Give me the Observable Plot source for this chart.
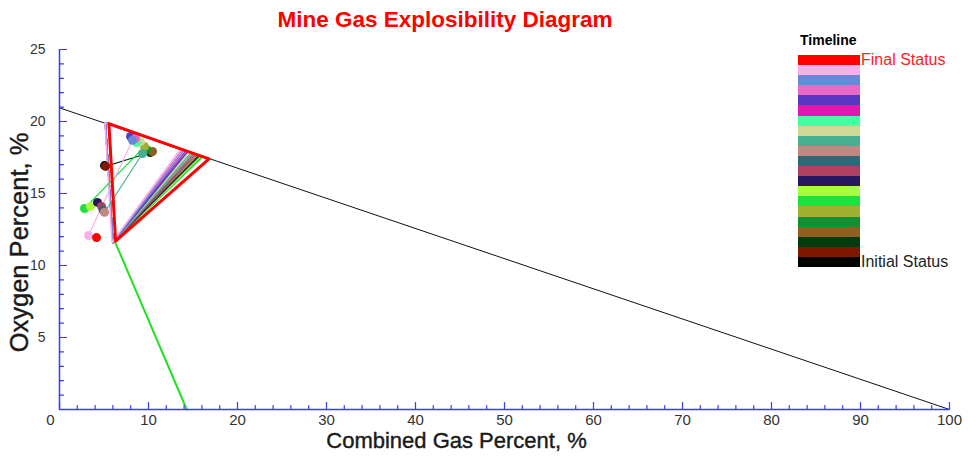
<!DOCTYPE html>
<html><head><meta charset="utf-8">
<script src="https://cdn.jsdelivr.net/npm/d3@7"></script>
<script src="https://cdn.jsdelivr.net/npm/@observablehq/plot@0.6"></script>
<style>
body{margin:0;background:#fff;font-family:"Liberation Sans",Arial,sans-serif;}
#wrap{position:relative;width:968px;height:459px;overflow:hidden;}
#title{position:absolute;left:0;top:7px;width:890px;text-align:center;font-weight:bold;font-size:22.5px;line-height:26px;color:#ff0000;}
#chart{position:absolute;left:0;top:36px;}
#legend{position:absolute;left:0;top:0;}
.lg{position:absolute;white-space:nowrap;}
</style></head><body>
<div id="wrap"><div id="title">Mine Gas Explosibility Diagram</div><div id="chart"></div><div id="legend"></div></div>
<script>
// Timeline steps, from initial status to final status
const stepColors = ["#000000","#801800","#003c10","#906020","#109030","#a0b030","#20e040","#a8ff40","#281860","#b04060","#306878","#c08880","#48b090","#d0d898","#48ffa0","#e018b0","#5838c0","#e868c8","#6888d8","#f8b0e8","#ff0000"];
// Mixture point of each step (combined gas %, oxygen %)
const gasPct = [5.06,5.17,10.2,10.45,9.78,9.55,2.81,3.48,4.27,4.72,4.9,5.06,9.33,9.1,8.65,8.31,7.98,8.54,8.2,3.26,4.16];
const o2Pct  = [16.94,16.88,17.85,17.92,18.06,18.26,13.96,14.1,14.38,14.1,13.85,13.7,17.78,18.6,18.54,18.89,18.96,18.82,18.7,12.08,11.94];
// Explosibility triangle of each step: lower limit vertex, nose vertex, upper limit vertex
const lelGas  = [5.15,5.15,5.15,5.15,5.15,5.15,5.15,5.15,5.15,5.15,5.15,5.15,5.15,5.15,5.15,5.15,5.15,5.15,5.15,5.1,5.55];
const lelO2   = [19.9,19.9,19.9,19.9,19.9,19.9,19.9,19.9,19.9,19.9,19.9,19.9,19.9,19.9,19.9,19.9,19.9,19.9,19.9,19.9,19.85];
const noseGas = [6.0,6.0,6.0,6.0,6.0,6.0,6.0,6.0,6.0,6.0,6.0,6.0,6.0,6.0,6.0,6.0,6.0,6.0,6.0,5.9,6.3];
const noseO2  = [11.6,11.6,11.6,11.6,11.6,11.6,11.6,11.6,11.6,11.6,11.6,11.6,11.6,11.6,11.6,11.6,11.6,11.6,11.6,11.6,11.7];
const uelGas  = [15.9,15.7,16.0,15.5,15.8,15.6,16.1,15.9,15.7,15.3,15.1,15.0,14.8,14.6,14.4,14.2,14.4,13.8,14.0,13.6,16.8];
const uelO2   = [17.59,17.64,17.57,17.68,17.61,17.66,17.55,17.59,17.64,17.72,17.77,17.79,17.83,17.87,17.92,17.96,17.92,18.05,18.0,18.09,17.4];
// Reference lines
const airLineGas = [0, 100];
const airLineO2 = [20.95, 0];
const noseLineGas = [6.2, 14.3];
const noseLineO2 = [11.7, 0];
// Axis ticks
const xMajor = d3.range(0, 101, 10);
const xMinor = d3.range(0, 101, 2).filter(v => v % 10 !== 0);
const yMajor = d3.range(0, 26, 5);
const yMinor = d3.range(0, 26, 1).filter(v => v % 5 !== 0);
const legendTitle = "Timeline";
const legendTop = "Final Status";
const legendBottom = "Initial Status";

const n = stepColors.length;
const tri = [];
for (let i = 0; i < n; i++) {
  const pts = [[lelGas[i], lelO2[i]], [noseGas[i], noseO2[i]], [uelGas[i], uelO2[i]], [lelGas[i], lelO2[i]]];
  for (const [g, o] of pts) tri.push({step: i, gas: g, o2: o, color: stepColors[i]});
}
const triOthers = tri.filter(d => d.step < n - 1);
const triFinal = tri.filter(d => d.step === n - 1);
const points = gasPct.map((g, i) => ({step: i, gas: g, o2: o2Pct[i], color: stepColors[i]}));
const links = d3.range(1, n).map(i => ({x1: gasPct[i-1], y1: o2Pct[i-1], x2: gasPct[i], y2: o2Pct[i], color: stepColors[i]}));
const airLine = airLineGas.map((g, i) => ({gas: g, o2: airLineO2[i]}));
const noseLine = noseLineGas.map((g, i) => ({gas: g, o2: noseLineO2[i]}));

const blue = "#3a3aff";
const tickShape = {draw(ctx, l) { ctx.moveTo(0, 0); ctx.lineTo(0, -l); }};
const font = "'Liberation Sans', Arial, sans-serif";

const chart = Plot.plot({
  width: 968, height: 423,
  marginTop: 13, marginBottom: 50, marginLeft: 59, marginRight: 19,
  x: {domain: [0, 100]},
  y: {domain: [0, 25]},
  color: {type: "identity"},
  style: {fontFamily: font, background: "white"},
  marks: [
    Plot.line(airLine, {x: "gas", y: "o2", stroke: "#111", strokeWidth: 1}),
    Plot.line(noseLine, {x: "gas", y: "o2", stroke: "#22e022", strokeWidth: 2}),
    Plot.line(triOthers, {x: "gas", y: "o2", z: "step", stroke: "color", strokeWidth: 1.5}),
    Plot.link(links, {x1: "x1", y1: "y1", x2: "x2", y2: "y2", stroke: "color", strokeWidth: 1.2}),
    Plot.dot(points, {x: "gas", y: "o2", fill: "color", r: 4.5}),
    Plot.line(triFinal, {x: "gas", y: "o2", z: "step", stroke: "color", strokeWidth: 3}),
    Plot.ruleY([0], {stroke: blue, strokeWidth: 1.5}),
    Plot.ruleX([0], {stroke: blue, strokeWidth: 1.5}),
    Plot.vector(xMajor, {x: d => d, y: () => 0, length: 7, rotate: 0, anchor: "start", shape: tickShape, stroke: blue, strokeWidth: 1.2}),
    Plot.vector(xMinor, {x: d => d, y: () => 0, length: 4, rotate: 0, anchor: "start", shape: tickShape, stroke: blue, strokeWidth: 1.2}),
    Plot.vector(yMajor, {x: () => 0, y: d => d, length: 7, rotate: 90, anchor: "start", shape: tickShape, stroke: blue, strokeWidth: 1.2}),
    Plot.vector(yMinor, {x: () => 0, y: d => d, length: 4, rotate: 90, anchor: "start", shape: tickShape, stroke: blue, strokeWidth: 1.2}),
    Plot.axisX(xMajor.filter(v => v > 0), {tickSize: 0, tickPadding: 5, fontSize: 15, color: "#333", label: null}),
    Plot.text([0], {x: d => d, frameAnchor: "bottom", lineAnchor: "top", dy: 5, dx: -9, fontSize: 15, fill: "#333"}),
    Plot.axisY(yMajor.filter(v => v > 0), {tickSize: 0, tickPadding: 14, fontSize: 14, color: "#333", label: null}),
    Plot.text(["Combined Gas Percent, %"], {frameAnchor: "bottom", lineAnchor: "middle", textAnchor: "middle", dy: 31, dx: -48, fontSize: 22, fill: "#1a1a1a", stroke: "#1a1a1a", strokeWidth: 0.4}),
    Plot.text(["Oxygen Percent, %"], {frameAnchor: "left", lineAnchor: "middle", textAnchor: "middle", rotate: -90, dx: -40, dy: 13, fontSize: 25.5, fill: "#1a1a1a", stroke: "#1a1a1a", strokeWidth: 0.4})
  ]
});
document.getElementById("chart").appendChild(chart);

// Legend (final status at top)
const lg = document.getElementById("legend");
const swH = 212 / n;
const add = (html, style) => { const d = document.createElement("div"); d.className = "lg"; d.textContent = html; Object.assign(d.style, style); lg.appendChild(d); return d; };
add(legendTitle, {left: "800px", top: "32px", fontSize: "14px", fontWeight: "bold", color: "#000"});
stepColors.slice().reverse().forEach((c, i) => {
  add("", {left: "798px", top: (55 + i * swH) + "px", width: "62px", height: (swH + 0.5) + "px", background: c});
});
add(legendTop, {left: "861px", top: "51px", fontSize: "16px", color: "#ff2020", lineHeight: "18px"});
add(legendBottom, {left: "861px", top: "253px", fontSize: "16px", color: "#222", lineHeight: "18px"});
</script>
</body></html>
